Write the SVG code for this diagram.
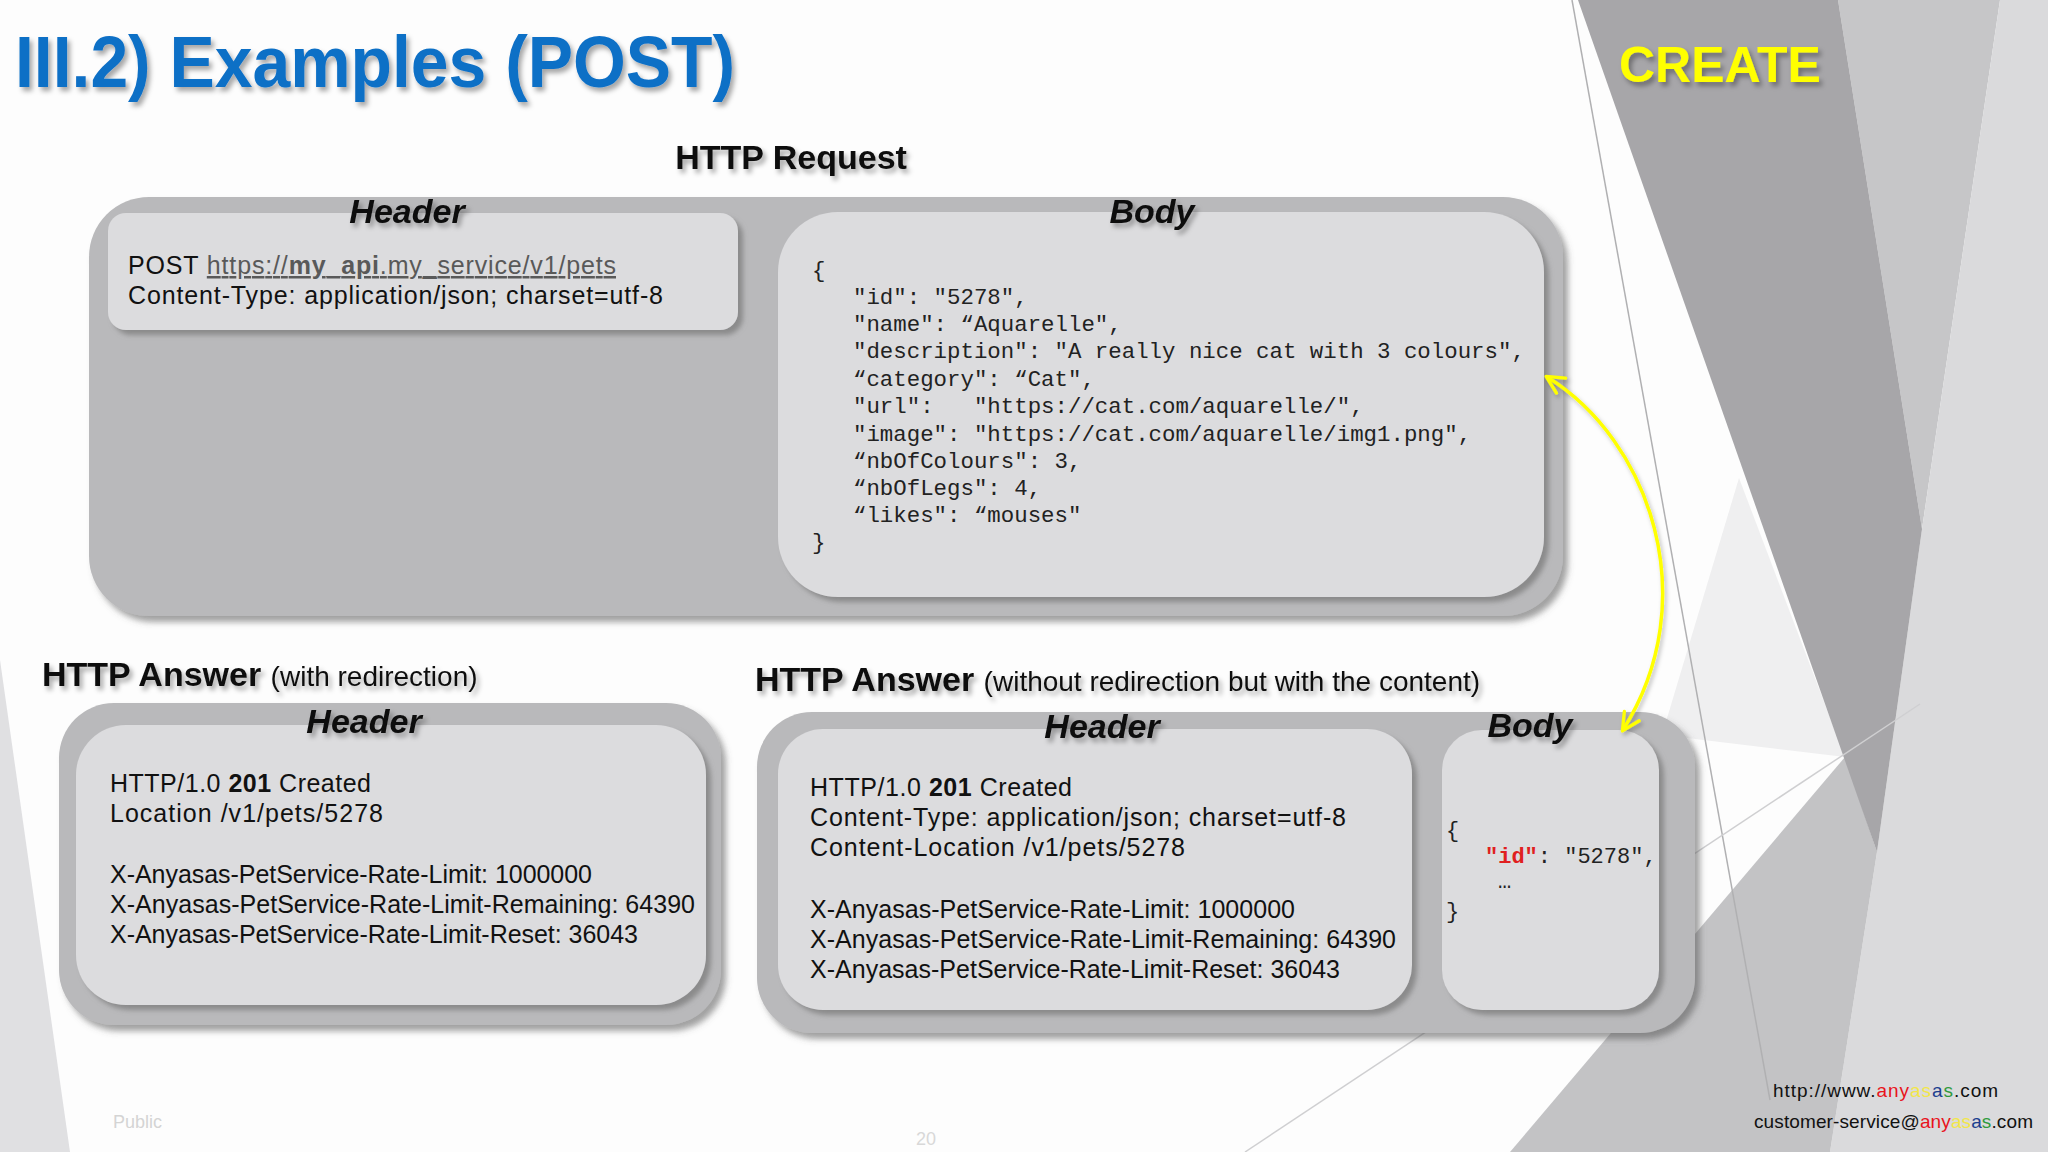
<svg xmlns="http://www.w3.org/2000/svg" width="2048" height="1152" viewBox="0 0 2048 1152">
<defs>
<style>
.bg{stroke:none}
.outer{fill:#b9b9bb;filter:url(#bs)}
.inner{fill:#dcdcde;filter:url(#bs2)}
.ttl{font-family:"Liberation Sans",Arial,sans-serif;font-weight:bold;fill:#111;filter:url(#ts)}
.lbl{font-family:"Liberation Sans",Arial,sans-serif;font-weight:bold;font-style:italic;font-size:34px;fill:#111;text-anchor:middle;filter:url(#ts)}
.sub{font-family:"Liberation Sans",Arial,sans-serif;font-size:28px;fill:#111;font-weight:normal}
.txt{font-family:"Liberation Sans",Arial,sans-serif;font-size:25px;fill:#111}
.mono{font-family:"Liberation Mono","Courier New",monospace;font-size:22.4px;fill:#222}
.mono2{font-family:"Liberation Mono","Courier New",monospace;font-size:22px;fill:#222}
.foot{font-family:"Liberation Sans","DejaVu Sans",sans-serif;font-size:19px;fill:#111;text-anchor:end}
.r{fill:#e8141c}.y{fill:#f2e64a}.b{fill:#1c3f8f}.g{fill:#2f9a3c}
</style>
<filter id="ts" x="-10%" y="-30%" width="125%" height="170%">
<feDropShadow dx="3" dy="4" stdDeviation="2.5" flood-color="#000" flood-opacity="0.35"/>
</filter>
<filter id="bs" x="-5%" y="-5%" width="112%" height="118%">
<feDropShadow dx="5" dy="6" stdDeviation="3" flood-color="#555" flood-opacity="0.55"/>
</filter>
<filter id="bs2" x="-5%" y="-5%" width="112%" height="118%">
<feDropShadow dx="5" dy="5" stdDeviation="2.5" flood-color="#777" flood-opacity="0.7"/>
</filter>
<filter id="as" x="-20%" y="-10%" width="140%" height="125%">
<feDropShadow dx="2" dy="3" stdDeviation="2" flood-color="#000" flood-opacity="0.25"/>
</filter>
<marker id="ah" viewBox="0 0 20 20" refX="17" refY="10" markerWidth="22" markerHeight="22" markerUnits="userSpaceOnUse" orient="auto-start-reverse">
<path d="M2,2 L18,10 L2,18" fill="none" stroke="#ffff00" stroke-width="3" stroke-linecap="round" stroke-linejoin="round"/>
</marker>
</defs>

<g id="background">
<rect x="0" y="0" width="2048" height="1152" fill="#fdfdfd"/>
<polygon class="bg" points="0,660 70,1152 0,1152" fill="#e0e0e2"/>
<polygon class="bg" points="1838,0 2000,0 1922,529" fill="#c6c6c8"/>
<polygon class="bg" points="2000,0 2048,0 2048,1152 1830,1152 1877,852 1922,529" fill="#dadadc"/>
<polygon class="bg" points="1739,478 1662,735 1845,757" fill="#efeff0"/>
<polygon class="bg" points="1510,1152 1845,757 1877,852 1830,1152" fill="#c3c3c5"/>
<polygon class="bg" points="1578,0 1838,0 1922,529 1877,852" fill="#a7a6a9"/>
<line x1="1572" y1="0" x2="1770" y2="1100" stroke="#b0b0b2" stroke-width="1.5"/>
<line x1="1245" y1="1152" x2="1920" y2="704" stroke="#cfcfd1" stroke-width="1.5"/>
</g>

<g id="title">
<text x="15" y="87" font-family="'Liberation Sans',Arial,sans-serif" font-weight="bold" font-size="73" fill="#0f6fc6" textLength="720" lengthAdjust="spacingAndGlyphs" filter="url(#ts)">III.2) Examples (POST)</text>
<text x="1619" y="82" font-family="'Liberation Sans',Arial,sans-serif" font-weight="bold" font-size="50" fill="#ffff00" filter="url(#ts)">CREATE</text>
</g>

<g id="request">
<text class="ttl" x="791" y="169" font-size="34" text-anchor="middle">HTTP Request</text>
<rect class="outer" x="89" y="197" width="1474" height="419" rx="60"/>
<g id="request-header">
<rect class="inner" x="108" y="213" width="630" height="117" rx="18"/>
<text class="lbl" x="407" y="223">Header</text>
<text class="txt" x="128" y="274" textLength="488">POST <tspan fill="#595959" text-decoration="underline">https://<tspan font-weight="bold">my_api</tspan>.my_service/v1/pets</tspan></text>
<text class="txt" x="128" y="304" textLength="535">Content-Type: application/json; charset=utf-8</text>
</g>
<g id="request-body">
<rect class="inner" x="778" y="212" width="766" height="385" rx="60"/>
<text class="lbl" x="1152" y="223">Body</text>
<text class="mono" x="812" y="277">{</text>
<text class="mono" x="853" y="304">"id": "5278",</text>
<text class="mono" x="853" y="331">"name": “Aquarelle",</text>
<text class="mono" x="853" y="358">"description": "A really nice cat with 3 colours",</text>
<text class="mono" x="853" y="386">“category": “Cat",</text>
<text class="mono" x="853" y="413" xml:space="preserve">"url":   "https://cat.com/aquarelle/",</text>
<text class="mono" x="853" y="441">"image": "https://cat.com/aquarelle/img1.png",</text>
<text class="mono" x="853" y="468">“nbOfColours": 3,</text>
<text class="mono" x="853" y="495">“nbOfLegs": 4,</text>
<text class="mono" x="853" y="522">“likes": “mouses"</text>
<text class="mono" x="812" y="549">}</text>
</g>
</g>

<g id="answer-redirect">
<text class="ttl" x="42" y="686" font-size="34">HTTP Answer <tspan class="sub">(with redirection)</tspan></text>
<rect class="outer" x="59" y="703" width="662" height="322" rx="55"/>
<g id="answer-redirect-header">
<rect class="inner" x="76" y="725" width="630" height="280" rx="50"/>
<text class="lbl" x="364" y="733">Header</text>
<text class="txt" x="110" y="792" textLength="261">HTTP/1.0 <tspan font-weight="bold">201</tspan> Created</text>
<text class="txt" x="110" y="822" textLength="273">Location /v1/pets/5278</text>
<text class="txt" x="110" y="883" textLength="482">X-Anyasas-PetService-Rate-Limit: 1000000</text>
<text class="txt" x="110" y="913" textLength="585">X-Anyasas-PetService-Rate-Limit-Remaining: 64390</text>
<text class="txt" x="110" y="943" textLength="528">X-Anyasas-PetService-Rate-Limit-Reset: 36043</text>
</g>
</g>

<g id="answer-content">
<text class="ttl" x="755" y="691" font-size="34">HTTP Answer <tspan class="sub">(without redirection but with the content)</tspan></text>
<rect class="outer" x="757" y="712" width="938" height="321" rx="55"/>
<g id="answer-content-header">
<rect class="inner" x="778" y="729" width="634" height="281" rx="45"/>
<text class="lbl" x="1102" y="738">Header</text>
<text class="txt" x="810" y="796" textLength="262">HTTP/1.0 <tspan font-weight="bold">201</tspan> Created</text>
<text class="txt" x="810" y="826" textLength="536">Content-Type: application/json; charset=utf-8</text>
<text class="txt" x="810" y="856" textLength="375">Content-Location /v1/pets/5278</text>
<text class="txt" x="810" y="918" textLength="485">X-Anyasas-PetService-Rate-Limit: 1000000</text>
<text class="txt" x="810" y="948" textLength="586">X-Anyasas-PetService-Rate-Limit-Remaining: 64390</text>
<text class="txt" x="810" y="978" textLength="530">X-Anyasas-PetService-Rate-Limit-Reset: 36043</text>
</g>
<g id="answer-content-body">
<rect class="inner" x="1442" y="730" width="217" height="280" rx="40"/>
<text class="lbl" x="1530" y="737">Body</text>
<text class="mono2" x="1446" y="837" font-size="17">{</text>
<text class="mono2" x="1485" y="863"><tspan fill="#e02020" font-weight="bold">"id"</tspan>: "5278",</text>
<text class="mono2" x="1498" y="888" font-size="14" fill="#555">…</text>
<text class="mono2" x="1446" y="918" font-size="17">}</text>
</g>
</g>

<g id="connectors">
<path d="M1547,377 C1650,440 1705,600 1623,730" fill="none" stroke="#ffff00" stroke-width="3.5" marker-start="url(#ah)" marker-end="url(#ah)" filter="url(#as)"/>
</g>

<g id="footer">
<text x="113" y="1128" font-family="'Liberation Sans',Arial,sans-serif" font-size="18" fill="#d4d4d4">Public</text>
<text x="916" y="1145" font-family="'Liberation Sans',Arial,sans-serif" font-size="18" fill="#d8d8d8">20</text>
<text class="foot" x="1998" y="1097" textLength="225">http://www.<tspan class="r">any</tspan><tspan class="y">as</tspan><tspan class="b">a</tspan><tspan class="g">s</tspan>.com</text>
<text class="foot" x="2033" y="1128" textLength="279">customer-service@<tspan class="r">any</tspan><tspan class="y">as</tspan><tspan class="b">a</tspan><tspan class="g">s</tspan>.com</text>
</g>
</svg>
